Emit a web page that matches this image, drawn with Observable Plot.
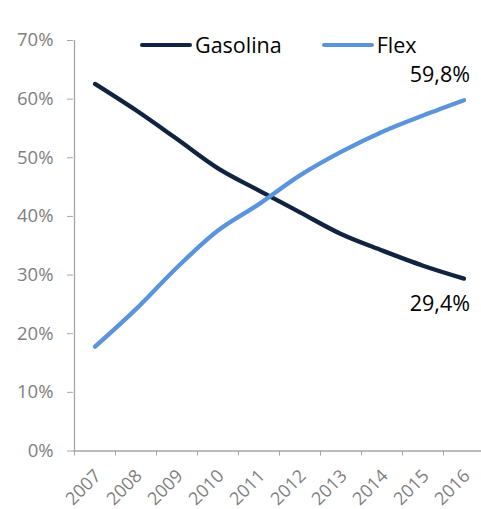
<!DOCTYPE html>
<html><head><meta charset="utf-8">
<script src="https://cdn.jsdelivr.net/npm/d3@7"></script>
<script src="https://cdn.jsdelivr.net/npm/@observablehq/plot@0.6"></script>
<style>
html,body{margin:0;padding:0;background:#fff;}
#wrap{position:relative;width:481px;height:509px;font-family:"Open Sans",sans-serif;overflow:hidden;}
#legend{position:absolute;left:140px;top:33px;display:flex;align-items:center;font-size:21.5px;line-height:24px;color:#000;}
.sw{display:inline-block;width:52px;height:4.5px;border-radius:3px;margin-right:3px;}
.item{display:flex;align-items:center;}
.item + .item{margin-left:40px;}
</style></head><body>
<div id="wrap"><div id="chart"></div><div id="legend"></div></div>
<script>
const years = [2007, 2008, 2009, 2010, 2011, 2012, 2013, 2014, 2015, 2016];
const gasolina = [62.6, 58.1, 53.2, 48.2, 44.4, 40.7, 37.0, 34.2, 31.6, 29.4];
const flex = [17.8, 24.2, 31.3, 37.6, 42.1, 47.0, 51.0, 54.4, 57.2, 59.8];
const seriesNames = ["Gasolina", "Flex"];
const seriesColors = ["#10233f", "#5a94db"];
const yTicks = [0, 10, 20, 30, 40, 50, 60, 70];

const data = [];
years.forEach((yr, i) => {
  data.push({year: yr, series: "Gasolina", value: gasolina[i]});
  data.push({year: yr, series: "Flex", value: flex[i]});
});
const lastYear = years[years.length - 1];
const lastPts = data.filter(d => d.year === lastYear);
const bounds = [years[0] - 0.5, ...years.map(y => y + 0.5)];
const fmt = v => v.toFixed(1).replace(".", ",") + "%";

const axisGray = "#a6a6a6";
const textGray = "#7f7f7f";

const chart = Plot.plot({
  width: 481, height: 509,
  marginTop: 40, marginBottom: 58.5, marginLeft: 73, marginRight: 0,
  x: {type: "linear", domain: [years[0] - 0.5, lastYear + 0.5], range: [74, 484]},
  y: {domain: [0, 70], range: [450.5, 40]},
  color: {domain: seriesNames, range: seriesColors},
  style: {fontFamily: "'Open Sans', sans-serif", fontSize: "18.5px", background: "white", overflow: "visible"},
  marks: [
    Plot.ruleX([years[0] - 0.5], {stroke: axisGray, strokeWidth: 1.3}),
    Plot.ruleY([0], {stroke: axisGray, strokeWidth: 1.3}),
    Plot.axisY({ticks: yTicks, tickFormat: d => d + "%", tickSize: 6, tickPadding: 14, stroke: axisGray, fill: textGray, fontSize: 18.5, label: null}),
    Plot.axisX({ticks: bounds, tickFormat: () => "", tickSize: 5, stroke: axisGray, label: null}),
    Plot.text(years, {x: d => d, y: () => 0, text: d => String(d), rotate: -45, textAnchor: "end", dx: 3, dy: 22, fill: textGray, fontSize: 18}),
    Plot.line(data, {x: "year", y: "value", z: "series", stroke: "series", strokeWidth: 4.3, curve: "catmull-rom", strokeLinecap: "round", strokeLinejoin: "round"}),
    Plot.text(lastPts.filter(d => d.series === "Flex"), {x: "year", y: "value", text: d => fmt(d.value), textAnchor: "end", dx: 6, dy: -25, fill: "#000", fontSize: 21.5}),
    Plot.text(lastPts.filter(d => d.series === "Gasolina"), {x: "year", y: "value", text: d => fmt(d.value), textAnchor: "end", dx: 6, dy: 26, fill: "#000", fontSize: 21.5})
  ]
});
document.getElementById("chart").appendChild(chart);

const legend = document.getElementById("legend");
seriesNames.forEach((name, i) => {
  const item = document.createElement("div");
  item.className = "item";
  const sw = document.createElement("span");
  sw.className = "sw";
  sw.style.background = seriesColors[i];
  const t = document.createElement("span");
  t.textContent = name;
  item.appendChild(sw); item.appendChild(t);
  legend.appendChild(item);
});
</script>
</body></html>
